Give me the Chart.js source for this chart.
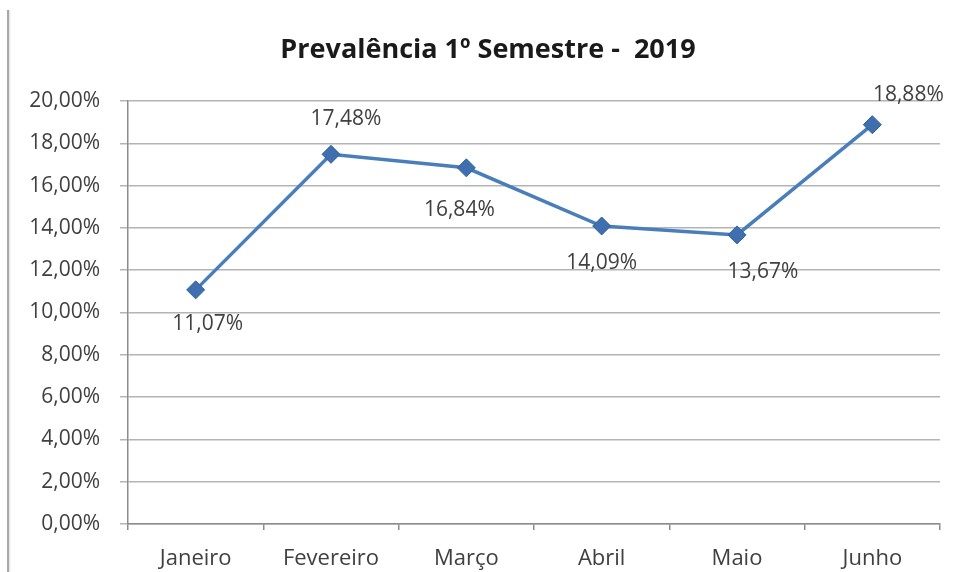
<!DOCTYPE html>
<html>
<head>
<meta charset="utf-8">
<script src="https://cdn.jsdelivr.net/npm/chart.js@4/dist/chart.umd.min.js"></script>
<style>
  html, body { margin: 0; padding: 0; background: #fff; }
  #wrap { position: relative; width: 958px; height: 572px; }
  #edge { position: absolute; left: 7px; top: 10px; width: 2px; height: 562px; background: #a8a8a8; box-shadow: 1px 0 2px #ddd; }
  canvas { position: absolute; left: 0; top: 0; }
</style>
</head>
<body>
<div id="wrap">
  <div id="edge"></div>
  <canvas id="chart" width="958" height="572"></canvas>
</div>
<script>
const months = ['Janeiro', 'Fevereiro', 'Março', 'Abril', 'Maio', 'Junho'];
const prevalence = [11.07, 17.48, 16.84, 14.09, 13.67, 18.88];
const yTicks = [0, 2, 4, 6, 8, 10, 12, 14, 16, 18, 20];
const titleText = 'Prevalência 1º Semestre -  2019';

const fontFamily = '"Open Sans", "Liberation Sans", sans-serif';
const fmt = v => v.toFixed(2).replace('.', ',') + '%';

// where each value label sits relative to its marker
const labelSpots = [
    { dx: 12, dy: 34 },
    { dx: 15, dy: -35 },
    { dx: -7, dy: 42 },
    { dx: 0, dy: 37 },
    { dx: 26, dy: 37 },
    { dx: 36, dy: -30 }
];

const valueLabels = {
    id: 'valueLabels',
    afterDatasetsDraw(chart) {
        const ctx = chart.ctx;
        const meta = chart.getDatasetMeta(0);
        ctx.save();
        ctx.font = '21px ' + fontFamily;
        ctx.fillStyle = '#404040';
        ctx.textAlign = 'center';
        ctx.textBaseline = 'middle';
        meta.data.forEach((pt, i) => {
            const spot = labelSpots[i];
            ctx.fillText(fmt(prevalence[i]), pt.x + spot.dx, pt.y + spot.dy);
        });
        ctx.restore();
    }
};

// title drawn by hand so it can sit off-centre like the original
const chartTitle = {
    id: 'chartTitle',
    afterDraw(chart) {
        const ctx = chart.ctx;
        ctx.save();
        ctx.font = 'bold 27px ' + fontFamily;
        ctx.fillStyle = '#1a1a1a';
        ctx.textAlign = 'center';
        ctx.textBaseline = 'middle';
        ctx.fillText(titleText, 488, 50);
        ctx.restore();
    }
};

new Chart(document.getElementById('chart'), {
    type: 'line',
    data: {
        labels: months,
        datasets: [{
            label: 'Prevalência',
            data: prevalence,
            borderColor: '#4a7ebb',
            borderWidth: 3.5,
            backgroundColor: '#3c6aa6',
            pointStyle: 'rectRot',
            pointRadius: 9,
            pointBorderColor: '#30619e',
            pointBorderWidth: 1,
            pointBackgroundColor: '#3f6fae',
            tension: 0
        }]
    },
    options: {
        responsive: false,
        animation: false,
        layout: { padding: { left: 0, right: 18, top: 101, bottom: 0 } },
        plugins: {
            legend: { display: false },
            tooltip: { enabled: false },
            title: { display: false }
        },
        scales: {
            y: {
                min: 0,
                max: 20,
                afterFit(scale) { scale.width = 128; },
                afterBuildTicks(scale) { scale.ticks = yTicks.map(v => ({ value: v })); },
                ticks: {
                    padding: 20,
                    color: '#404040',
                    font: { family: fontFamily, size: 21 },
                    callback: v => fmt(v)
                },
                grid: { color: '#b4b4b4', lineWidth: 1.5, tickLength: 8 },
                border: { color: '#8c8c8c', width: 1.5 }
            },
            x: {
                offset: true,
                afterFit(scale) { scale.height = 48; },
                ticks: {
                    padding: 16,
                    color: '#404040',
                    font: { family: fontFamily, size: 22 }
                },
                grid: { offset: true, drawOnChartArea: false, color: '#8c8c8c', lineWidth: 1.5, tickLength: 6 },
                border: { color: '#8c8c8c', width: 1.5 }
            }
        }
    },
    plugins: [valueLabels, chartTitle]
});
</script>
</body>
</html>
